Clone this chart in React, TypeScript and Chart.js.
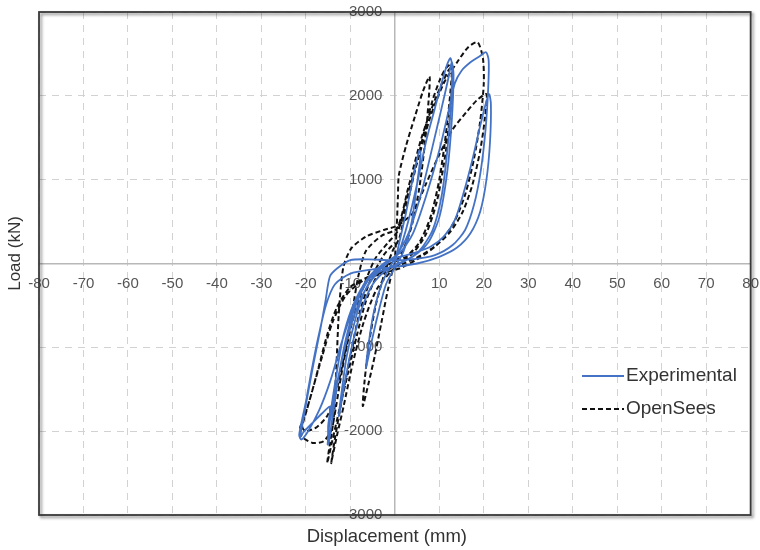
import { useEffect, useRef } from 'react';
import { Chart, registerables } from 'chart.js';

Chart.register(...registerables);

const X_MIN = -80;
const X_MAX = 80;
const X_STEP = 10;
const Y_MIN = -3000;
const Y_MAX = 3000;
const Y_STEP = 1000;

const xTitle = 'Displacement (mm)';
const yTitle = 'Load (kN)';
const seriesNames = ['Experimental', 'OpenSees'];

// [displacement (mm), load (kN)]
const experimental: [number, number][] = [
  [0, 0], [1, 250], [2.5, 600], [4, 1000], [5.5, 1350], [5.8, 1300], [5, 950], [3.8, 500], [2, 150], [0, -50],
  [-2, -250], [-4, -650], [-5.5, -1000], [-6.5, -1250], [-6, -1000], [-4.8, -600], [-3, -250], [-1, -30], [1, 150],
  [3, 500], [5, 950], [7, 1450], [9, 1850], [10.5, 2150], [11.8, 2380], [12.5, 2450], [12.9, 2350], [12.6, 1900],
  [11.8, 1350], [10.5, 800], [8.5, 400], [5.5, 150], [2, 20], [-2, -80], [-5, -250], [-7.5, -550], [-9.5, -950],
  [-11, -1350], [-12, -1650], [-12.6, -1820], [-12, -1550], [-10.8, -1100], [-8.8, -650], [-6.5, -300], [-3.5, -80], [0, 80],
  [3, 350], [6, 850], [8.5, 1400], [10.5, 1850], [12, 2200], [12.8, 2400], [13.2, 2250], [12.8, 1700], [11.8, 1100],
  [10, 550], [7.5, 250], [4, 80], [0, -20], [-4, -120], [-7.5, -400], [-10.5, -850], [-12.5, -1300], [-14, -1700],
  [-14.8, -1950], [-15.1, -2160], [-14.6, -1850], [-13.2, -1350], [-11.5, -850], [-9, -450], [-6, -180], [-2.5, 0], [1, 120],
  [4, 350], [7, 800], [10, 1350], [12, 1800], [13.5, 2150], [15, 2300], [17, 2400], [19, 2470], [20.5, 2520], [21.1, 2420],
  [21, 2100], [20.4, 1600], [19.3, 1100], [17.8, 700], [15.8, 400], [13, 220], [9, 100], [4, 50], [-1, 40], [-6, 50],
  [-10, 40], [-13, -60], [-14.6, -155], [-15.6, -450], [-16.8, -800], [-18.3, -1200], [-19.7, -1600], [-20.7, -1900],
  [-21.3, -2070], [-20.5, -2010], [-18.5, -1900], [-16.2, -1780], [-14.6, -1710], [-15, -1950], [-14.9, -2150],
  [-14.2, -1900], [-12.8, -1400], [-11, -900], [-8.8, -500], [-6, -200], [-3, -50], [0, 60],
  [4, 120], [8, 200], [11, 320], [13.5, 520], [15.5, 850], [17.5, 1250], [19, 1600], [20.3, 1880], [21.2, 2020],
  [21.6, 1900], [21.4, 1450], [20.6, 1000], [19.2, 620], [17, 360], [14, 190], [10, 80], [5, 0], [0, -40], [-5, -70],
  [-10, -120], [-13.5, -250], [-15.5, -500], [-17.3, -900], [-18.8, -1300], [-20, -1650], [-21, -1900], [-21.5, -2050],
  [-21, -2100], [-19.5, -2000], [-17, -1750], [-14.5, -1400], [-12, -950], [-9.5, -550], [-7, -250], [-4, -60], [-1, 40],
];

const openSees: [number, number][] = [
  [0, 0], [0.4, 400], [0.7, 800], [0.9, 1050], [2.5, 1400], [4.5, 1750], [6.3, 2050], [7.8, 2230], [7.6, 1950],
  [6.8, 1450], [5.5, 900], [3.8, 450], [1.8, 150], [0, 0], [-1.5, -300], [-3, -700], [-4.5, -1100], [-6, -1450],
  [-7.2, -1700], [-6.8, -1400], [-5.8, -950], [-4.3, -500], [-2.5, -150], [-0.5, 150], [1, 300],
  [2.5, 650], [4.5, 1100], [6.5, 1550], [8.5, 1950], [10.2, 2200], [11.5, 2330], [12.8, 2380], [12.5, 2050],
  [11.5, 1550], [10, 1000], [8, 550], [5.5, 250], [2.5, 80], [-1, 0], [-4, -150], [-6.5, -450], [-8.5, -850],
  [-10.5, -1300], [-12.5, -1750], [-14, -2100], [-15.2, -2380], [-14.6, -2150], [-13.2, -1700], [-11.6, -1200],
  [-9.6, -700], [-7.2, -300], [-4.5, 50], [-1.5, 250], [0.8, 400],
  [2.5, 750], [5, 1200], [8, 1750], [11, 2150], [14, 2400], [16.5, 2580], [18.6, 2640], [19.8, 2450], [20, 2150],
  [19.2, 1700], [17.8, 1250], [15.8, 820], [13.2, 480], [10, 250], [6, 100], [2, 0], [-2, -80], [-6, -160],
  [-10, -280], [-13, -520], [-15.2, -850], [-17.2, -1250], [-19, -1600], [-20.5, -1850], [-21.3, -1960],
  [-21, -2060], [-18.5, -2140], [-16, -2120], [-14, -1950], [-13.2, -1300], [-12.6, -600], [-11.6, -50],
  [-9.8, 180], [-6.5, 320], [-2.5, 400], [0.5, 450],
  [4, 600], [7, 950], [10, 1300], [13, 1600], [16, 1800], [18.5, 1950], [20.6, 2020], [20.3, 1750], [19.2, 1350],
  [17.5, 950], [15.3, 620], [12.5, 380], [9, 200], [5, 50], [1, -60], [-3, -120], [-7, -200], [-11, -380],
  [-14, -700], [-16.3, -1100], [-18.2, -1450], [-19.8, -1750], [-20.8, -1950], [-20, -2000], [-17.5, -1950],
  [-15, -1800], [-12.8, -1450], [-11, -1000], [-9.5, -550], [-8.2, -150], [-6.5, 150], [-3, 330], [0.5, 420],
  [3, 900], [6, 1500], [9, 1950], [12, 2300], [13, 2350], [12.6, 1900], [11.5, 1350], [9.5, 750], [7, 350],
  [4, 120], [0, -50], [-4, -300], [-7, -700], [-9.5, -1200], [-11.5, -1700], [-13, -2050], [-14, -2300],
  [-14.3, -2380], [-13.5, -2100], [-12, -1650], [-10, -1100], [-8, -600], [-5.5, -200], [-2.5, 100], [0, 250],
];

const FONT = '"Liberation Sans", Arial, Helvetica, sans-serif';
const EXP_COLOR = '#4472C4';
const OS_COLOR = '#111111';
const OS_DASH = [5, 3];

const framePlugin = {
  id: 'frameAndLabels',
  afterDraw(chart: any) {
    const { ctx, chartArea } = chart;
    const { left, right, top, bottom } = chartArea;
    ctx.save();
    ctx.shadowColor = 'rgba(0,0,0,0.45)';
    ctx.shadowBlur = 3;
    ctx.shadowOffsetX = 2;
    ctx.shadowOffsetY = 2;
    ctx.strokeStyle = '#3a3a3a';
    ctx.lineWidth = 1.8;
    ctx.strokeRect(left, top, right - left, bottom - top);
    ctx.restore();

    ctx.save();
    ctx.fillStyle = '#333';
    ctx.font = `18.5px ${FONT}`;
    ctx.textAlign = 'center';
    ctx.textBaseline = 'middle';
    ctx.fillText(xTitle, (left + right) / 2 - 8, bottom + 22);
    ctx.font = `17px ${FONT}`;
    ctx.translate(15, (top + bottom) / 2 - 10);
    ctx.rotate(-Math.PI / 2);
    ctx.fillText(yTitle, 0, 0);
    ctx.restore();

    ctx.save();
    const lx = 582;
    const ly = [376, 409];
    ctx.lineWidth = 2;
    ctx.strokeStyle = EXP_COLOR;
    ctx.beginPath();
    ctx.moveTo(lx, ly[0]);
    ctx.lineTo(lx + 42, ly[0]);
    ctx.stroke();
    ctx.strokeStyle = OS_COLOR;
    ctx.setLineDash(OS_DASH);
    ctx.beginPath();
    ctx.moveTo(lx, ly[1]);
    ctx.lineTo(lx + 42, ly[1]);
    ctx.stroke();
    ctx.setLineDash([]);
    ctx.fillStyle = '#333';
    ctx.font = `19px ${FONT}`;
    ctx.textAlign = 'left';
    ctx.textBaseline = 'middle';
    ctx.fillText(seriesNames[0], lx + 44, ly[0]);
    ctx.fillText(seriesNames[1], lx + 44, ly[1]);
    ctx.restore();
  },
};

const gridColor = (c: any) => (c.tick && c.tick.value === 0 ? 'rgba(0,0,0,0)' : '#d2d2d2');
const gridDash = (c: any) => (c.tick && c.tick.value === 0 ? [] : [7, 6]);
const xLabel = (v: any) => (Number(v) === 0 ? '' : String(v));
// trailing spaces keep the right-aligned labels off the axis line
const yLabel = (v: any) => (Number(v) === 0 ? '' : String(v) + '   ');

export default function App() {
  const ref = useRef<HTMLCanvasElement>(null);
  useEffect(() => {
    document.body.style.margin = '0';
    const canvas = ref.current;
    if (!canvas) return;
    const chart = new Chart(canvas, {
      type: 'scatter',
      data: {
        datasets: [
          {
            label: seriesNames[0],
            data: experimental.map(([x, y]) => ({ x, y })),
            showLine: true,
            borderColor: EXP_COLOR,
            backgroundColor: EXP_COLOR,
            borderWidth: 1.8,
            pointRadius: 0,
            tension: 0.25,
          },
          {
            label: seriesNames[1],
            data: openSees.map(([x, y]) => ({ x, y })),
            showLine: true,
            borderColor: OS_COLOR,
            backgroundColor: OS_COLOR,
            borderWidth: 2,
            borderDash: OS_DASH,
            pointRadius: 0,
            tension: 0.25,
          },
        ],
      },
      options: {
        responsive: false,
        animation: false,
        layout: { padding: { left: 39, right: 1, top: 12, bottom: 35 } },
        plugins: { legend: { display: false }, tooltip: { enabled: false } },
        scales: {
          x: {
            type: 'linear',
            min: X_MIN,
            max: X_MAX,
            position: { y: 0 },
            ticks: { stepSize: X_STEP, color: '#555', font: { family: FONT, size: 15 }, padding: 1, callback: xLabel },
            grid: { color: gridColor, lineWidth: 1, drawTicks: true, tickLength: 10, tickColor: 'rgba(0,0,0,0)' },
            border: { display: true, color: '#b8b8b8', width: 1.5, dash: gridDash },
          },
          y: {
            type: 'linear',
            min: Y_MIN,
            max: Y_MAX,
            position: { x: 0 },
            ticks: { stepSize: Y_STEP, color: '#555', font: { family: FONT, size: 15 }, padding: 0, callback: yLabel },
            grid: { color: gridColor, lineWidth: 1, drawTicks: false },
            border: { display: true, color: '#b8b8b8', width: 1.5, dash: gridDash },
          },
        },
      } as any,
      plugins: [framePlugin],
    });
    return () => chart.destroy();
  }, []);
  return <canvas ref={ref} width={760} height={550} style={{ display: 'block' }} />;
}
